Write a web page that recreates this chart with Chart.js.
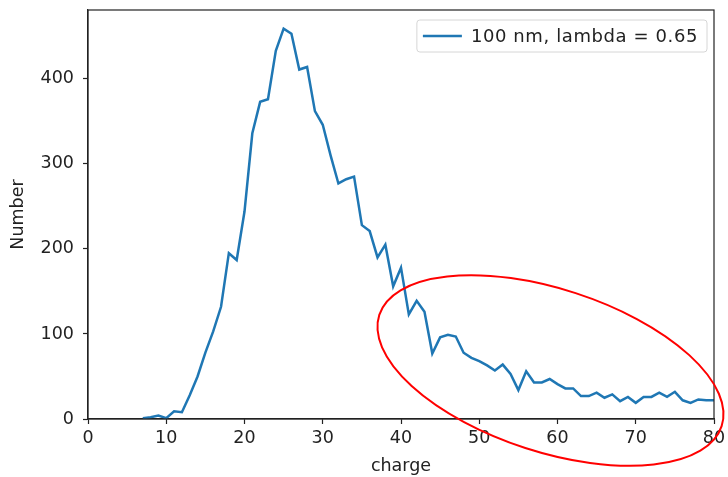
<!DOCTYPE html>
<html>
<head>
<meta charset="utf-8">
<script src="https://cdn.jsdelivr.net/npm/chart.js@4/dist/chart.umd.min.js"></script>
<style>
  html, body { margin: 0; padding: 0; background: #fff; }
  #wrap { width: 728px; height: 477px; position: relative; }
</style>
</head>
<body>
<div id="wrap"><canvas id="c" width="728" height="477"></canvas></div>
<script>
// Charge distribution: number of particles per charge value
const charges = [7, 8, 9, 10, 11, 12, 13, 14, 15, 16, 17, 18, 19, 20, 21, 22, 23, 24, 25, 26,
  27, 28, 29, 30, 31, 32, 33, 34, 35, 36, 37, 38, 39, 40, 41, 42, 43, 44, 45, 46,
  47, 48, 49, 50, 51, 52, 53, 54, 55, 56, 57, 58, 59, 60, 61, 62, 63, 64, 65, 66,
  67, 68, 69, 70, 71, 72, 73, 74, 75, 76, 77, 78, 79, 80];
const counts = [1, 2, 4, 1, 9, 8, 28, 50, 78, 103, 132, 195, 187, 244, 336, 373, 376, 433, 459, 453,
  411, 414, 362, 346, 310, 277, 282, 285, 228, 221, 190, 205, 156, 178, 123, 139, 126, 77, 96, 99,
  97, 78, 72, 68, 63, 57, 64, 53, 34, 56, 43, 43, 47, 41, 36, 36, 27, 27, 31, 25,
  29, 21, 26, 19, 26, 26, 31, 26, 32, 22, 19, 23, 22, 22];
const seriesLabel = '100 nm, lambda = 0.65';
const xTicks = [0, 10, 20, 30, 40, 50, 60, 70, 80];
const yTicks = [0, 100, 200, 300, 400];
const xLabel = 'charge';
const yLabel = 'Number';

// highlighted tail region (data-space centre, radii in charge units, tilt in degrees)
const tailCentre = { x: 59.1, y: 57 };
const tailRadii = { a: 23.0, b: 10.4 };
const tailTilt = 18;

const FONT = 'DejaVu Sans';
const LINE_COLOR = '#1f77b4';

const points = charges.map((c, i) => ({ x: c, y: counts[i] }));

// full box around the plot area
const frame = {
  id: 'frame',
  afterDatasetsDraw(chart) {
    const { ctx, chartArea: a } = chart;
    ctx.save();
    ctx.strokeStyle = '#222';
    ctx.lineWidth = 1.2;
    ctx.strokeRect(a.left, a.top, a.right - a.left, a.bottom - a.top);
    ctx.restore();
  }
};

// legend box in the upper right corner
const boxLegend = {
  id: 'boxLegend',
  afterDatasetsDraw(chart) {
    const { ctx, chartArea: a } = chart;
    const ds = chart.data.datasets[0];
    ctx.save();
    ctx.font = '18px "' + FONT + '"';
    ctx.letterSpacing = '0.6px';
    const tw = ctx.measureText(ds.label).width;
    const h = 32, handle = 39, gap = 9, padL = 6, padR = 9;
    const w = padL + handle + gap + tw + padR;
    const x0 = a.right - 7 - w, y0 = a.top + 10;
    const r = 3;
    ctx.beginPath();
    ctx.moveTo(x0 + r, y0);
    ctx.lineTo(x0 + w - r, y0);
    ctx.quadraticCurveTo(x0 + w, y0, x0 + w, y0 + r);
    ctx.lineTo(x0 + w, y0 + h - r);
    ctx.quadraticCurveTo(x0 + w, y0 + h, x0 + w - r, y0 + h);
    ctx.lineTo(x0 + r, y0 + h);
    ctx.quadraticCurveTo(x0, y0 + h, x0, y0 + h - r);
    ctx.lineTo(x0, y0 + r);
    ctx.quadraticCurveTo(x0, y0, x0 + r, y0);
    ctx.closePath();
    ctx.fillStyle = 'rgba(255,255,255,0.8)';
    ctx.fill();
    ctx.strokeStyle = '#d6d6d6';
    ctx.lineWidth = 1;
    ctx.stroke();
    const cy = y0 + h / 2;
    ctx.strokeStyle = ds.borderColor;
    ctx.lineWidth = ds.borderWidth;
    ctx.beginPath();
    ctx.moveTo(x0 + padL, cy);
    ctx.lineTo(x0 + padL + handle, cy);
    ctx.stroke();
    ctx.fillStyle = '#222';
    ctx.textBaseline = 'middle';
    ctx.fillText(ds.label, x0 + padL + handle + gap, cy + 1);
    ctx.restore();
  }
};

// red ellipse drawn around the long tail of the distribution
const tailMark = {
  id: 'tailMark',
  afterDraw(chart) {
    const { ctx, scales: { x, y } } = chart;
    const cx = x.getPixelForValue(tailCentre.x);
    const cy = y.getPixelForValue(tailCentre.y);
    const unit = x.getPixelForValue(1) - x.getPixelForValue(0);
    ctx.save();
    ctx.strokeStyle = '#ff0000';
    ctx.lineWidth = 2;
    ctx.beginPath();
    ctx.ellipse(cx, cy, tailRadii.a * unit, tailRadii.b * unit, tailTilt * Math.PI / 180, 0, Math.PI * 2);
    ctx.stroke();
    ctx.restore();
  }
};

new Chart(document.getElementById('c'), {
  type: 'line',
  data: {
    datasets: [{
      label: seriesLabel,
      data: points,
      borderColor: LINE_COLOR,
      backgroundColor: LINE_COLOR,
      borderWidth: 2.5,
      pointRadius: 0,
      tension: 0,
      fill: false
    }]
  },
  options: {
    responsive: false,
    animation: false,
    devicePixelRatio: 1,
    layout: { padding: { top: 10, right: 14, left: 0, bottom: 0 } },
    plugins: { legend: { display: false }, tooltip: { enabled: false }, title: { display: false } },
    scales: {
      x: {
        type: 'linear',
        min: 0, max: 80,
        afterBuildTicks(s) { s.ticks = xTicks.map(v => ({ value: v })); },
        afterFit(s) { s.height = 58; s.paddingRight = 0; },
        grid: { display: true, drawOnChartArea: false, drawTicks: true, tickLength: 5, tickColor: '#222', tickWidth: 1.2 },
        border: { display: true, color: '#222', width: 1.2 },
        ticks: { color: '#222', font: { family: FONT, size: 17.5 }, padding: 4, maxRotation: 0 },
        title: { display: true, text: xLabel, color: '#222', font: { family: FONT, size: 17.5 }, padding: { top: 0, bottom: 0 } }
      },
      y: {
        type: 'linear',
        min: 0, max: 481,
        afterBuildTicks(s) { s.ticks = yTicks.map(v => ({ value: v })); },
        afterFit(s) { s.width = 88; s.paddingTop = 0; s.paddingBottom = 0; },
        grid: { display: true, drawOnChartArea: false, drawTicks: true, tickLength: 5, tickColor: '#222', tickWidth: 1.2 },
        border: { display: true, color: '#222', width: 1.2 },
        ticks: { color: '#222', font: { family: FONT, size: 17.5 }, padding: 9 },
        title: { display: true, text: yLabel, color: '#222', font: { family: FONT, size: 17.5 }, padding: { top: 8, bottom: 0 } }
      }
    }
  },
  plugins: [frame, boxLegend, tailMark]
});
</script>
</body>
</html>
